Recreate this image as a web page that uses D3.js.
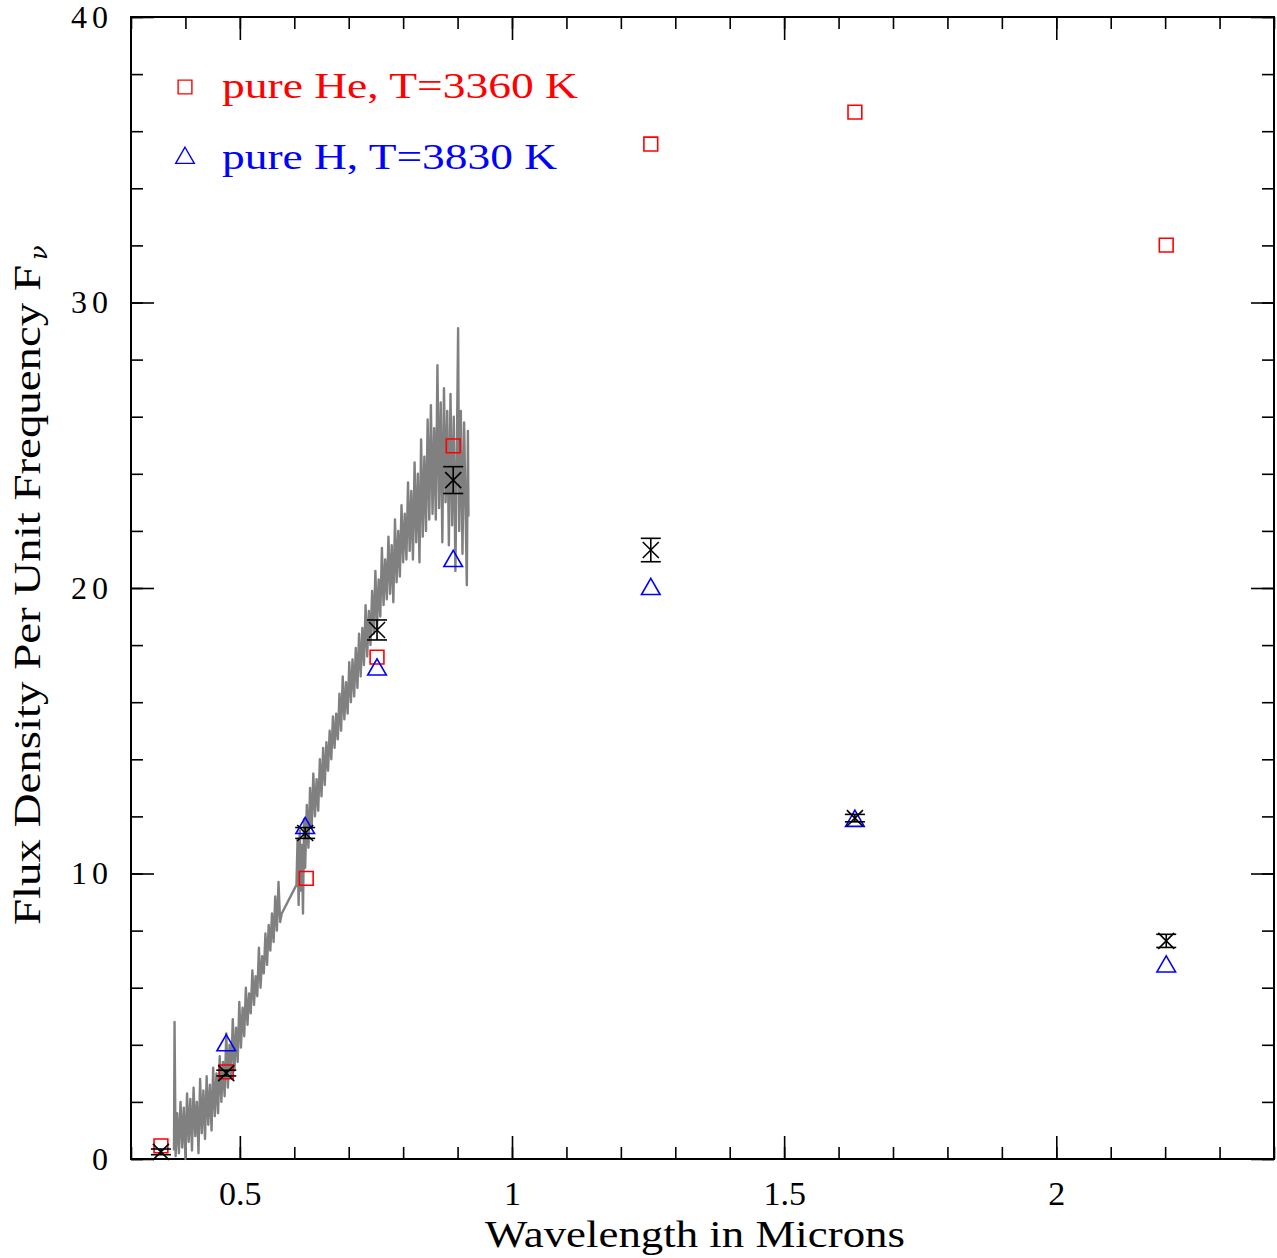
<!DOCTYPE html>
<html>
<head>
<meta charset="utf-8">
<script src="https://cdn.jsdelivr.net/npm/d3@7"></script>
<style>
  body { margin: 0; background: #fff; }
  svg { display: block; }
</style>
</head>
<body>
<div id="chart"></div>
<script>
// F_nu spectral energy distribution: photometry, optical spectrum, two model fits

const width = 1277,
    height = 1258,
    margin = ({ top: 17, right: 3, bottom: 99, left: 131 });

// observed photometry (microns, flux, 1-sigma)
const obsWave = [0.355, 0.475, 0.62, 0.752, 0.892, 1.255, 1.63, 2.202];
const obsFlux = [0.25, 3.01, 11.42, 18.53, 23.78, 21.33, 11.94, 7.64];
const obsErr  = [0.10, 0.10, 0.19, 0.35, 0.47, 0.41, 0.13, 0.23];

// pure He model, T=3360 K
const heWave = [0.355, 0.475, 0.622, 0.752, 0.892, 1.255, 1.63, 2.202];
const heFlux = [0.46, 3.05, 9.83, 17.58, 24.98, 35.55, 36.67, 32.01];

// pure H model, T=3830 K
const hWave = [0.475, 0.62, 0.752, 0.892, 1.255, 1.63, 2.202];
const hFlux = [3.98, 11.59, 17.14, 20.94, 19.96, 11.84, 6.74];

// optical spectrum
const specWave = [
  0.379, 0.380, 0.382, 0.385, 0.388, 0.391, 0.394, 0.397, 0.400, 0.403, 0.406, 0.409,
  0.412, 0.415, 0.418, 0.421, 0.424, 0.427, 0.430, 0.433, 0.436, 0.439, 0.442, 0.445,
  0.448, 0.451, 0.454, 0.457, 0.460, 0.463, 0.466, 0.469, 0.472, 0.475, 0.478, 0.481,
  0.484, 0.487, 0.490, 0.493, 0.496, 0.499, 0.502, 0.505, 0.508, 0.511, 0.514, 0.517,
  0.520, 0.523, 0.526, 0.529, 0.532, 0.535, 0.538, 0.541, 0.544, 0.547, 0.550, 0.553,
  0.556, 0.559, 0.562, 0.565, 0.568, 0.571, 0.574, 0.577,
  0.604, 0.606, 0.608, 0.610, 0.612, 0.614, 0.616, 0.618, 0.620, 0.623, 0.626, 0.629,
  0.632, 0.635, 0.638, 0.641, 0.644, 0.647, 0.650, 0.653, 0.656, 0.659, 0.662, 0.665,
  0.668, 0.671, 0.674, 0.677, 0.680, 0.683, 0.686, 0.689, 0.692, 0.695, 0.698, 0.701,
  0.704, 0.707, 0.710, 0.713, 0.716, 0.719, 0.722, 0.725, 0.728, 0.731, 0.734, 0.737,
  0.740, 0.743, 0.746, 0.749, 0.752, 0.755, 0.758, 0.761, 0.764, 0.767, 0.770, 0.773,
  0.776, 0.779, 0.782, 0.785, 0.788, 0.791, 0.794, 0.797, 0.800, 0.803, 0.806, 0.809,
  0.812, 0.815, 0.818, 0.821, 0.824, 0.827, 0.830, 0.833, 0.836, 0.839, 0.842, 0.845,
  0.848, 0.851, 0.854, 0.857, 0.860, 0.863, 0.866, 0.869, 0.872, 0.875, 0.878, 0.881,
  0.884, 0.887, 0.890, 0.893, 0.896, 0.899, 0.901, 0.903, 0.906, 0.909, 0.912, 0.915,
  0.917, 0.919, 0.920
];
const specFlux = [
  0.3, 4.8, 0.1, 1.6, 0.2, 2.0, 0.4, 1.8, 0.0, 2.3, 0.6, 2.1,
  0.3, 2.5, 0.8, 2.0, 0.2, 2.8, 0.9, 2.4, 0.7, 2.9, 1.2, 2.6,
  1.0, 3.2, 1.5, 3.0, 1.6, 3.6, 2.0, 3.4, 2.2, 4.4, 2.5, 4.0,
  2.9, 4.9, 3.1, 4.6, 3.4, 5.5, 3.9, 5.3, 4.3, 6.0, 4.7, 5.8,
  5.1, 6.6, 5.4, 6.4, 5.7, 7.4, 6.0, 7.1, 6.5, 7.9, 6.8, 8.2,
  7.3, 8.6, 7.6, 9.2, 8.0, 9.7, 8.3, 8.6,
  9.6, 11.2, 8.9, 11.5, 9.4, 11.0, 8.6, 11.9, 10.2, 12.4, 10.9, 13.0,
  11.6, 13.5, 12.0, 13.3, 12.2, 14.0, 12.7, 14.4, 13.1, 14.6, 13.6, 15.0,
  14.0, 15.5, 14.4, 15.6, 14.7, 16.3, 15.0, 16.9, 15.4, 16.7, 15.6, 17.4,
  16.0, 17.5, 16.2, 17.9, 16.5, 18.4, 16.9, 18.6, 17.3, 19.4, 17.6, 19.2,
  18.0, 19.9, 18.4, 20.6, 18.6, 20.3, 19.0, 21.4, 19.4, 21.0, 19.6, 21.8,
  19.8, 21.5, 19.5, 22.4, 20.2, 22.0, 20.4, 22.9, 20.9, 22.6, 21.0, 23.7,
  21.3, 23.4, 21.0, 24.4, 21.6, 24.0, 20.9, 25.2, 21.8, 24.6, 22.0, 25.9,
  22.4, 26.4, 22.6, 25.6, 22.4, 27.8, 22.8, 26.5, 21.6, 27.0, 23.0, 26.2,
  21.5, 26.8, 22.2, 26.0, 20.6, 25.4, 29.1, 22.0, 26.2, 21.2, 25.8, 22.4,
  20.1, 25.5, 22.5
];

const xMajor = [0.5, 1, 1.5, 2];
const xLabels = ["0.5", "1", "1.5", "2"];
const yMajor = [0, 10, 20, 30, 40];
const yLabels = ["0", "10", "20", "30", "40"];

const legendItems = ["pure He, T=3360 K", "pure H, T=3830 K"];

const svg = d3.select("#chart")
    .append("svg")
    .attr("width", width)
    .attr("height", height)
    .attr("viewBox", [0, 0, width, height]);

const x = d3.scaleLinear()
    .domain([0.3, 2.4])
    .range([margin.left, width - margin.right]);

const y = d3.scaleLinear()
    .domain([0, 40])
    .range([height - margin.bottom, margin.top]);

const xMinor = d3.range(3, 25).map(d => d / 10);
const yMinor = d3.range(0, 41, 2);

// ticks on all four sides, pointing in
function tickGroup(axis, transform) {
    return svg.append("g")
        .attr("transform", transform)
        .attr("color", "#000")
        .call(axis)
        .call(g => g.select(".domain").remove())
        .call(g => g.selectAll("line").attr("stroke-width", 1.6));
}

const bottomY = `translate(0,${y(0)})`, topY = `translate(0,${y(40)})`;
const leftX = `translate(${x(0.3)},0)`, rightX = `translate(${x(2.4)},0)`;

tickGroup(d3.axisBottom(x).tickValues(xMinor).tickSize(-12).tickFormat(""), bottomY);
tickGroup(d3.axisTop(x).tickValues(xMinor).tickSize(-12).tickFormat(""), topY);
tickGroup(d3.axisTop(x).tickValues(xMajor).tickSize(-23).tickFormat(""), topY);
tickGroup(d3.axisLeft(y).tickValues(yMinor).tickSize(-12).tickFormat(""), leftX);
tickGroup(d3.axisRight(y).tickValues(yMinor).tickSize(-12).tickFormat(""), rightX);
tickGroup(d3.axisRight(y).tickValues(yMajor).tickSize(-23).tickFormat(""), rightX);

tickGroup(d3.axisBottom(x).tickValues(xMajor).tickSize(-23).tickPadding(22)
        .tickFormat((d, i) => xLabels[i]), bottomY)
    .call(g => g.selectAll("text")
        .attr("font-family", "'Liberation Serif', serif")
        .attr("font-size", 34)
        .attr("fill", "#000"));

tickGroup(d3.axisLeft(y).tickValues(yMajor).tickSize(-23).tickPadding(23)
        .tickFormat((d, i) => yLabels[i]), leftX)
    .call(g => g.selectAll("text")
        .attr("font-family", "'Liberation Serif', serif")
        .attr("font-size", 32)
        .attr("letter-spacing", 5)
        .attr("dx", 5)
        .attr("fill", "#000"));

// frame
svg.append("rect")
    .attr("x", x(0.3))
    .attr("y", y(40))
    .attr("width", x(2.4) - x(0.3))
    .attr("height", y(0) - y(40))
    .attr("fill", "none")
    .attr("stroke", "#000")
    .attr("stroke-width", 2);

// spectrum
const spec = d3.zip(specWave, specFlux);
svg.append("path")
    .datum(spec)
    .attr("fill", "none")
    .attr("stroke", "#808080")
    .attr("stroke-width", 2.4)
    .attr("stroke-linejoin", "round")
    .attr("d", d3.line().x(d => x(d[0])).y(d => y(d[1])));

const square = d3.symbol(d3.symbolSquare, 190);
const triangle = d3.symbol(d3.symbolTriangle, 150);

// He model
svg.append("g")
    .selectAll("path")
    .data(d3.zip(heWave, heFlux))
    .join("path")
    .attr("transform", d => `translate(${x(d[0])},${y(d[1])})`)
    .attr("d", square)
    .attr("fill", "none")
    .attr("stroke", "#ff0000")
    .attr("stroke-width", 1.6);

// H model
svg.append("g")
    .selectAll("path")
    .data(d3.zip(hWave, hFlux))
    .join("path")
    .attr("transform", d => `translate(${x(d[0])},${y(d[1])})`)
    .attr("d", triangle)
    .attr("fill", "none")
    .attr("stroke", "#0000ff")
    .attr("stroke-width", 1.6);

// observed points: X marker plus error bar with caps
const obs = svg.append("g")
    .attr("stroke", "#000")
    .attr("stroke-width", 1.6)
    .selectAll("g")
    .data(d3.zip(obsWave, obsFlux, obsErr))
    .join("g")
    .attr("transform", d => `translate(${x(d[0])},0)`);

obs.append("line")
    .attr("y1", d => y(d[1] - d[2]))
    .attr("y2", d => y(d[1] + d[2]));
obs.append("line")
    .attr("x1", -10).attr("x2", 10)
    .attr("y1", d => y(d[1] - d[2]))
    .attr("y2", d => y(d[1] - d[2]));
obs.append("line")
    .attr("x1", -10).attr("x2", 10)
    .attr("y1", d => y(d[1] + d[2]))
    .attr("y2", d => y(d[1] + d[2]));
obs.append("path")
    .attr("d", d => {
        const cy = y(d[1]);
        return `M-8,${cy - 8}L8,${cy + 8}M-8,${cy + 8}L8,${cy - 8}`;
    });

// legend
const legendColors = ["#ff0000", "#0000ff"];
const legendSyms = [square, triangle];
const legendLen = [356, 335];
legendItems.forEach((t, i) => {
    const ly = 87 + i * 71;
    svg.append("path")
        .attr("transform", `translate(185,${ly})`)
        .attr("d", legendSyms[i])
        .attr("fill", "none")
        .attr("stroke", legendColors[i])
        .attr("stroke-width", 1.4);
    svg.append("text")
        .attr("x", 222)
        .attr("y", ly + 11)
        .attr("font-family", "'Liberation Serif', serif")
        .attr("font-size", 36)
        .attr("fill", legendColors[i])
        .attr("textLength", legendLen[i])
        .attr("lengthAdjust", "spacingAndGlyphs")
        .text(t);
});

// axis titles
svg.append("text")
    .attr("x", 485)
    .attr("y", 1247)
    .attr("font-family", "'Liberation Serif', serif")
    .attr("font-size", 38)
    .attr("fill", "#000")
    .attr("textLength", 420)
    .attr("lengthAdjust", "spacingAndGlyphs")
    .text("Wavelength in Microns");

svg.append("text")
    .attr("transform", "translate(40,925) rotate(-90)")
    .attr("font-family", "'Liberation Serif', serif")
    .attr("font-size", 38)
    .attr("fill", "#000")
    .attr("textLength", 660)
    .attr("lengthAdjust", "spacingAndGlyphs")
    .text("Flux Density Per Unit Frequency F");

svg.append("text")
    .attr("transform", "translate(47,260) rotate(-90)")
    .attr("font-family", "'DejaVu Serif', serif")
    .attr("font-style", "italic")
    .attr("font-size", 24)
    .attr("fill", "#000")
    .text("ν");
</script>
</body>
</html>
